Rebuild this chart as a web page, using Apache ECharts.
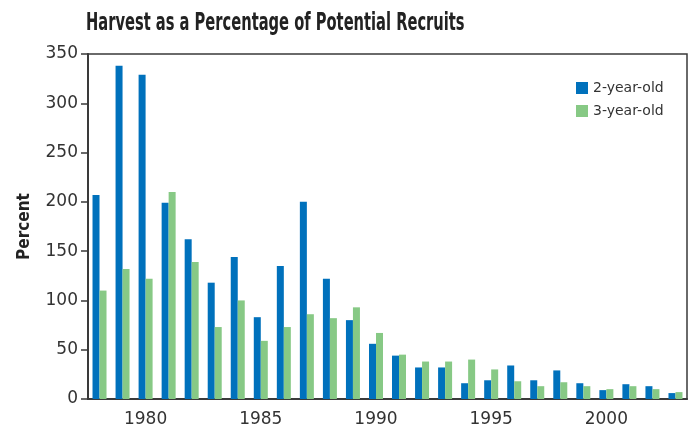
<!DOCTYPE html>
<html>
<head>
<meta charset="utf-8">
<script src="https://cdn.jsdelivr.net/npm/echarts@6/dist/echarts.min.js"></script>
<style>
  html, body { margin: 0; padding: 0; background: #fff; }
  #main { width: 691px; height: 433px; }
</style>
</head>
<body>
<div id="main"></div>
<script>
// data
var years = ['1978','1979','1980','1981','1982','1983','1984','1985','1986','1987','1988','1989','1990',
             '1991','1992','1993','1994','1995','1996','1997','1998','1999','2000','2001','2002','2003'];
var twoYearOld   = [207,338,329,199,162,118,144,83,135,200,122,80,56,44,32,32,16,19,34,19,29,16,9,15,13,6];
var threeYearOld = [110,132,122,210,139,73,100,59,73,86,82,93,67,45,38,38,40,30,18,13,17,13,10,13,10,7];
var yTicks = { min: 0, max: 350, step: 50 };

var axisColor = '#3a3a3a';
var labelFont = 'DejaVu Sans';
var condFont = "'DejaVu Sans Condensed', 'DejaVu Sans', sans-serif";

var chart = echarts.init(document.getElementById('main'));
var option = {
    animation: false,
    // title: condensed bold face, squeezed horizontally like the original
    graphic: [{
        type: 'text',
        x: 86,
        y: 12,
        scaleX: 0.68,
        style: {
            text: 'Harvest as a Percentage of Potential Recruits',
            font: "bold 24px 'DejaVu Sans Condensed', 'DejaVu Sans'",
            fill: '#222',
            textVerticalAlign: 'top'
        }
    }],
    legend: {
        orient: 'vertical',
        left: 571,
        top: 76,
        icon: 'rect',
        itemWidth: 12,
        itemHeight: 12,
        itemGap: 9,
        textStyle: { fontFamily: labelFont, fontSize: 14, color: '#333' },
        data: ['2-year-old', '3-year-old']
    },
    grid: {
        left: 88, right: 4, top: 54, bottom: 34,
        show: true,
        borderColor: axisColor,
        borderWidth: 1.5
    },
    xAxis: [
        {
            type: 'category',
            data: years,
            axisLine: { lineStyle: { color: axisColor, width: 2 } },
            axisTick: { interval: 0, alignWithLabel: true, length: 6, lineStyle: { color: '#777', width: 1.5 } },
            axisLabel: {
                interval: function (i, v) { return v % 5 === 0; },
                margin: 12,
                fontFamily: labelFont, fontSize: 17, color: '#333'
            }
        },
        {
            // longer ticks at the labelled years
            type: 'category',
            data: years,
            position: 'bottom',
            axisLine: { show: false },
            axisLabel: { show: false },
            axisTick: {
                interval: function (i, v) { return v % 5 === 0; },
                alignWithLabel: true, length: 10,
                lineStyle: { color: axisColor, width: 1.5 }
            }
        }
    ],
    yAxis: {
        type: 'value',
        min: yTicks.min, max: yTicks.max, interval: yTicks.step,
        name: 'Percent',
        nameLocation: 'middle',
        nameRotate: 90,
        nameGap: 55,
        nameTextStyle: { fontFamily: condFont, fontWeight: 'bold', fontSize: 17, color: '#222' },
        splitLine: { show: false },
        axisLine: { show: true, lineStyle: { color: axisColor, width: 2 } },
        axisTick: { show: true, length: 7, lineStyle: { color: axisColor, width: 1.5 } },
        axisLabel: { margin: 10, fontFamily: labelFont, fontSize: 17, color: '#333' }
    },
    series: [
        {
            name: '2-year-old',
            type: 'bar',
            xAxisIndex: 0,
            barWidth: 7,
            barGap: '0%',
            itemStyle: { color: '#0071bc' },
            data: twoYearOld
        },
        {
            name: '3-year-old',
            type: 'bar',
            xAxisIndex: 0,
            barWidth: 7,
            barGap: '0%',
            itemStyle: { color: '#87c985' },
            data: threeYearOld
        }
    ]
};
chart.setOption(option);
</script>
</body>
</html>
